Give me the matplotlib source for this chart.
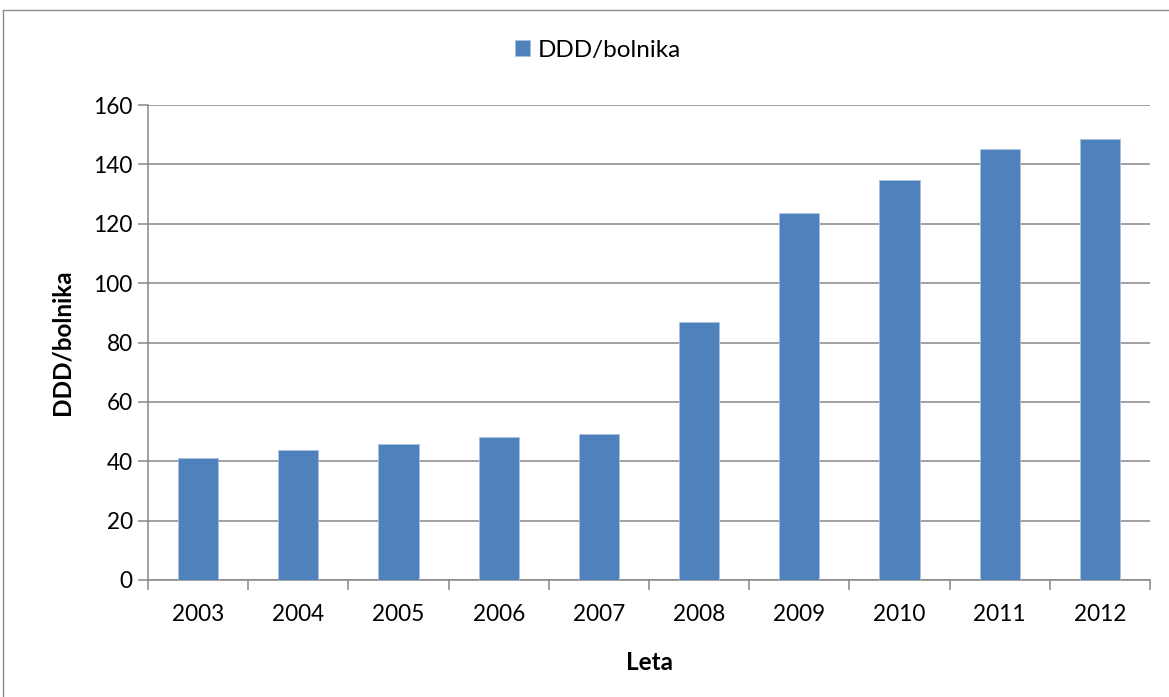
import matplotlib
matplotlib.use("Agg")
import matplotlib.pyplot as plt
from matplotlib.lines import Line2D
import numpy as np

years = ["2003", "2004", "2005", "2006", "2007", "2008", "2009", "2010", "2011", "2012"]
ddd_values = [41.2, 43.8, 45.8, 48.1, 49.3, 86.9, 123.7, 134.7, 145.1, 148.6]
series_name = "DDD/bolnika"
x_title = "Leta"
y_ticks = [0, 20, 40, 60, 80, 100, 120, 140, 160]

plt.rcParams["font.family"] = ["Lato", "DejaVu Sans"]

W, H = 1169, 697
fig = plt.figure(figsize=(W / 100, H / 100), dpi=100)
ax = fig.add_axes([148 / W, 1 - 580 / H, (1150 - 148) / W, (580 - 105) / H])

grid_col = "#878787"
bar_col = "#4F81BD"
tick_fs = 16.3
title_fs = 17.5

x = np.arange(len(years))
ax.bar(x, ddd_values, width=0.4, color=bar_col, edgecolor="#A9C2E0",
       linewidth=0.6, label=series_name, zorder=3)

ax.set_xlim(-0.5, len(years) - 0.5)
ax.set_ylim(0, 160)
ax.set_yticks(y_ticks)
ax.set_yticklabels([str(v) for v in y_ticks])
ax.yaxis.grid(True, color=grid_col, linewidth=1.1, zorder=0)
ax.set_axisbelow(True)

# category labels centered, tick marks on category boundaries
ax.set_xticks(x)
ax.set_xticklabels(years)
ax.tick_params(axis="x", length=0, pad=17, labelsize=tick_fs)
ax.set_xticks(np.arange(-0.5, len(years), 1.0), minor=True)
ax.tick_params(axis="x", which="minor", length=7, width=1.1, color=grid_col)
ax.tick_params(axis="y", length=7, width=1.1, color=grid_col, pad=4, labelsize=tick_fs)

for s in ["top", "right"]:
    ax.spines[s].set_visible(False)
for s in ["left", "bottom"]:
    ax.spines[s].set_color(grid_col)
    ax.spines[s].set_linewidth(1.1)

# axis titles
ax.text(-86 / 1002, 0.501, series_name, transform=ax.transAxes, rotation=90,
        ha="center", va="center", fontsize=title_fs, fontweight="bold")
ax.text(0.5, -82 / 475, x_title, transform=ax.transAxes,
        ha="center", va="center", fontsize=title_fs, fontweight="bold")

fig.legend(loc="center", bbox_to_anchor=(598 / W, 1 - 50 / H), frameon=False,
           fontsize=title_fs, handlelength=0.6, handleheight=0.6, handletextpad=0.3)

# chart frame
fig.add_artist(Line2D([3 / W, 3 / W], [0, 1 - 10 / H], color="#8C8C8C", linewidth=1.0,
                      transform=fig.transFigure))
fig.add_artist(Line2D([3 / W, 1], [1 - 10 / H, 1 - 10 / H], color="#8C8C8C", linewidth=1.0,
                      transform=fig.transFigure))

fig.savefig("out.png", dpi=100)
